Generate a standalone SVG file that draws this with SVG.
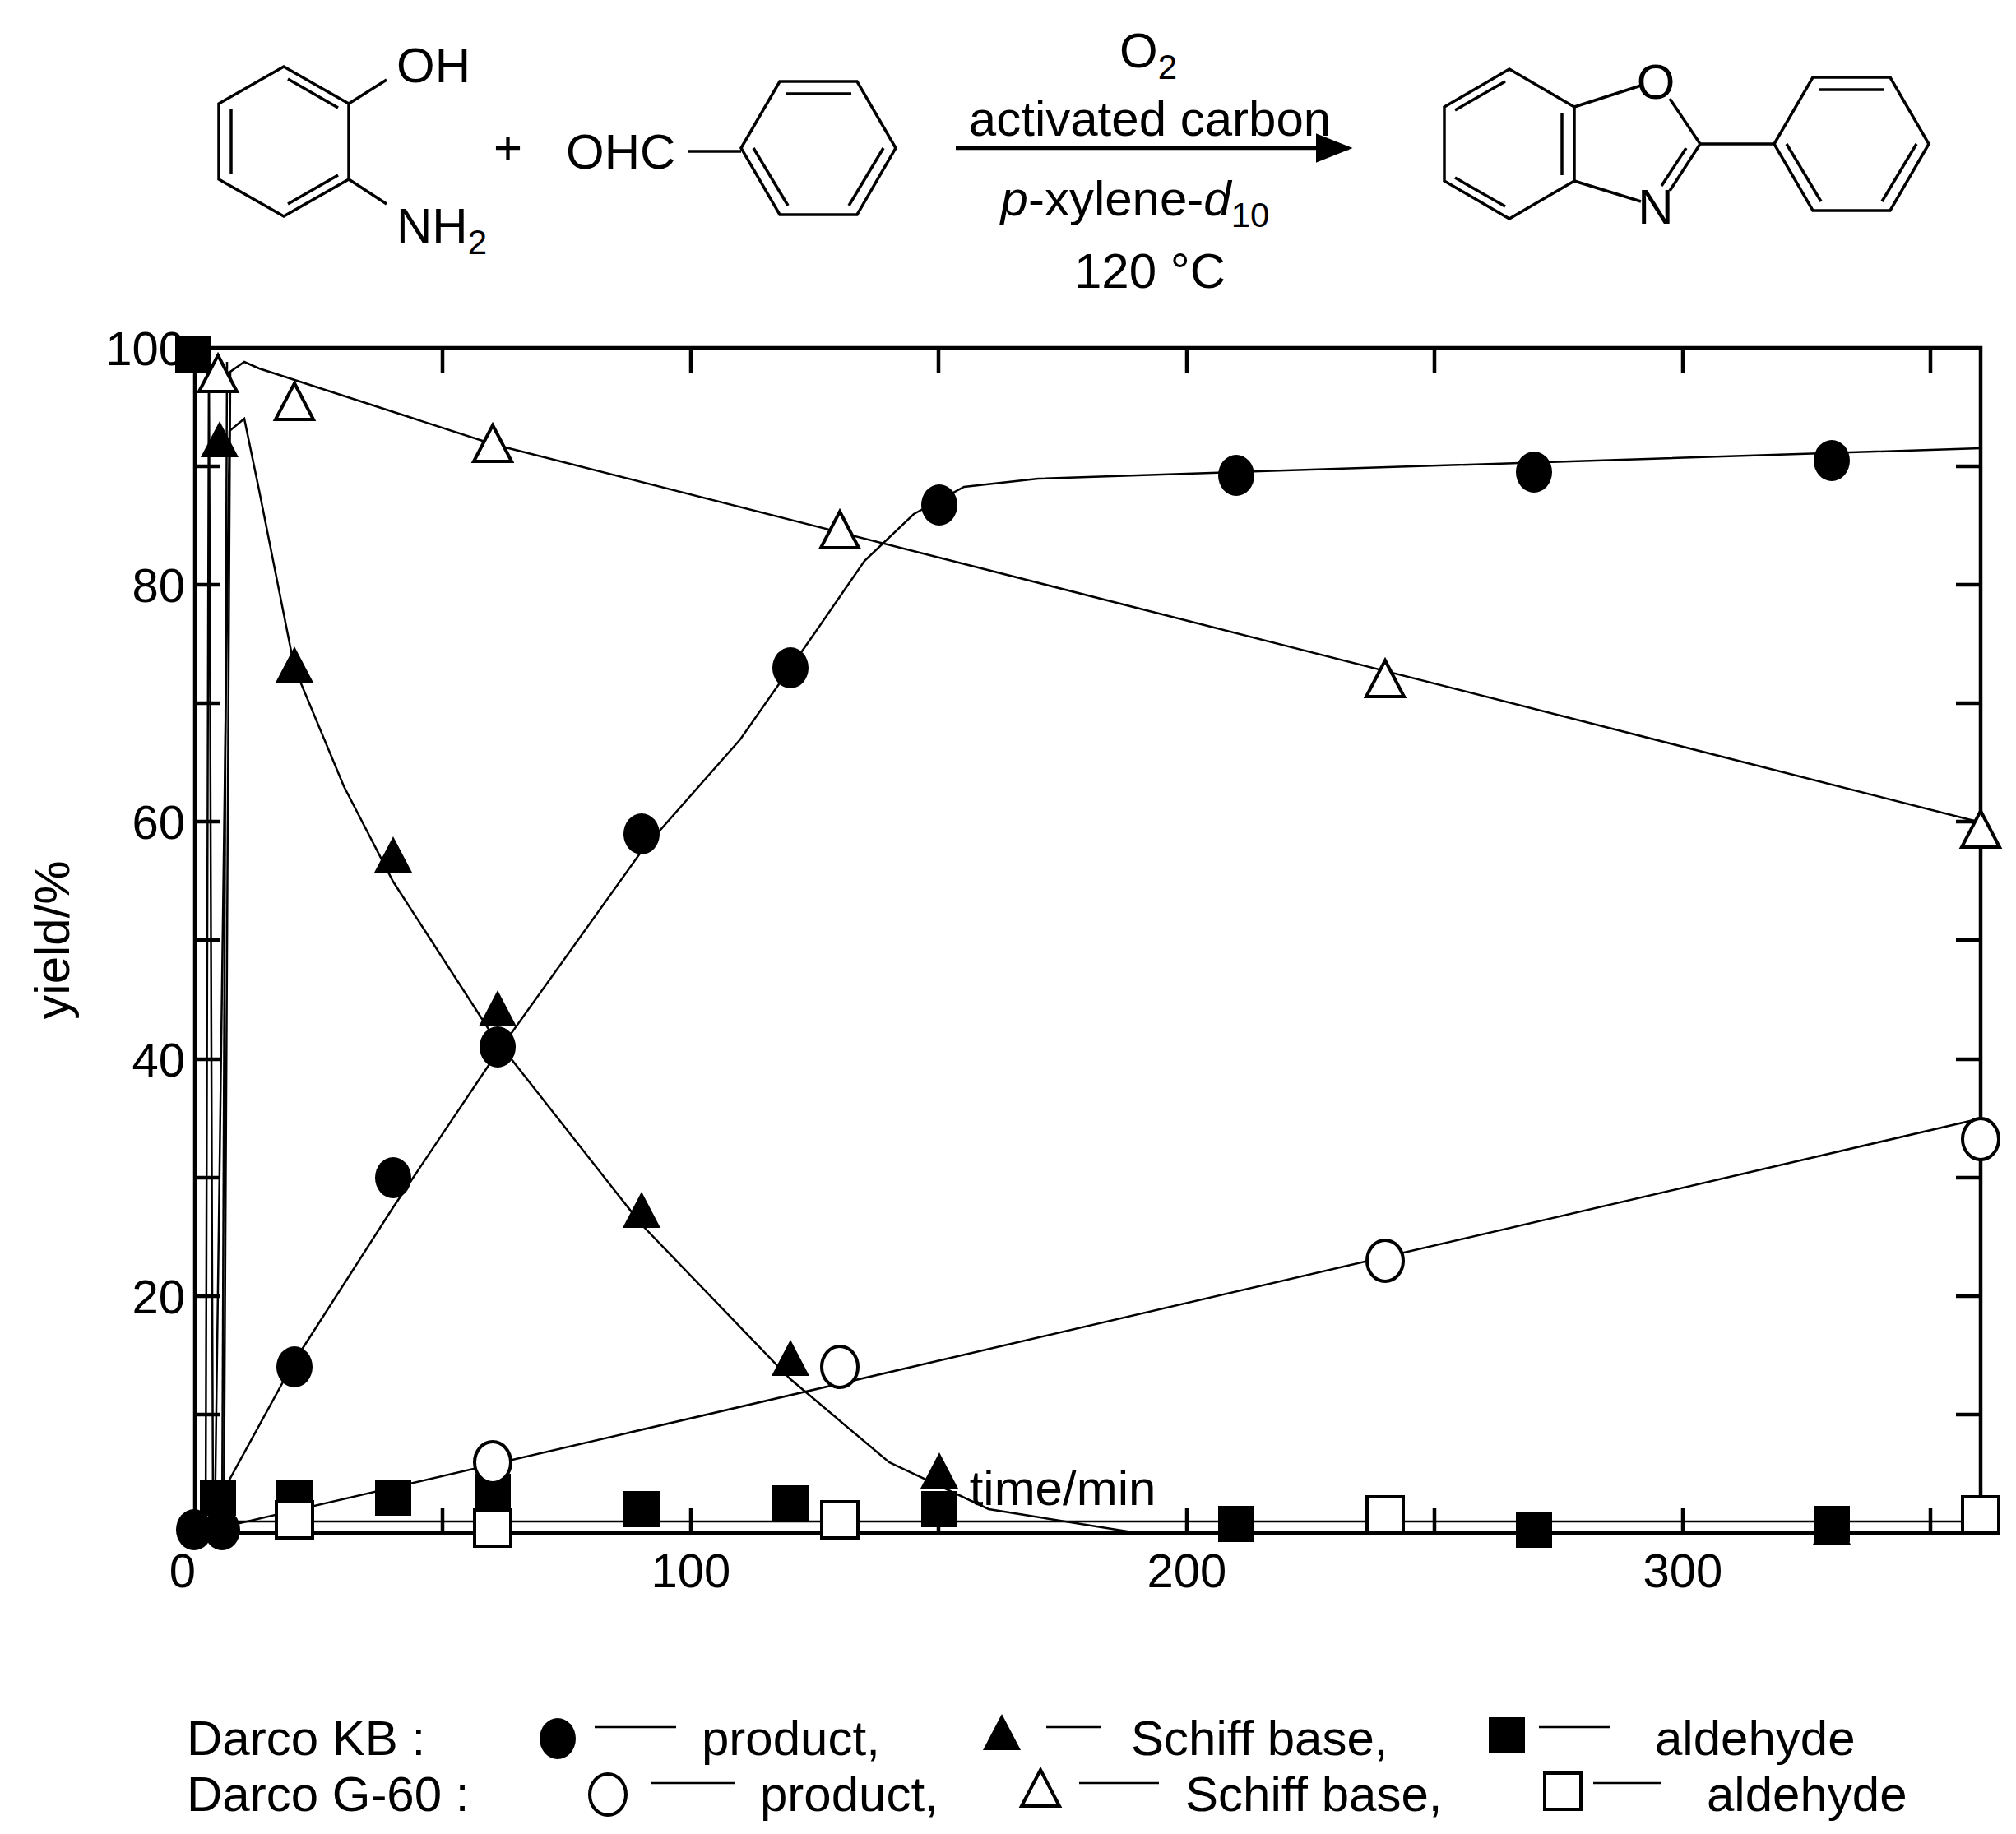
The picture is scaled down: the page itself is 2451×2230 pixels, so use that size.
<svg xmlns="http://www.w3.org/2000/svg" xmlns:xlink="http://www.w3.org/1999/xlink" width="2451" height="2230" viewBox="0 0 2451 2230">
<style>
text{font-family:"Liberation Sans",Arial,sans-serif;fill:#000}
.t{font-size:60px}
.tk{font-size:58px}
.ln{fill:none;stroke:#000;stroke-width:2.5}
.bd{fill:none;stroke:#000;stroke-width:3.5}
.ax{fill:none;stroke:#000;stroke-width:4.5}
.fc{fill:#000}
.oc{fill:#fff;stroke:#000;stroke-width:4}
</style>
<defs>
<ellipse id="c" cx="0" cy="0" rx="22" ry="25"/>
<polygon id="tr" points="0,-26 23,18 -23,18"/>
<rect id="sq" x="-22" y="-22" width="44" height="44"/>
<marker id="ah" markerWidth="10" markerHeight="8" refX="9" refY="4" orient="auto" markerUnits="strokeWidth"><path d="M0,0 L10,4 L0,8 z"/></marker>
</defs>
<rect width="2451" height="2230" fill="#fff"/>
<g id="scheme">
<g id="aminophenol" class="bd">
<polygon points="345,81 424,126 424,218 345,263 266,218 266,126"/>
<line x1="350" y1="96" x2="411" y2="131"/><line x1="281" y1="133" x2="281" y2="211"/><line x1="350" y1="248" x2="411" y2="213"/>
<line x1="424" y1="126" x2="470" y2="97"/><line x1="424" y1="218" x2="470" y2="248"/>
</g>
<text class="t" x="482" y="100">OH</text>
<text class="t" x="482" y="295">NH<tspan font-size="42" dy="14">2</tspan></text>
<text class="t" x="600" y="200">+</text>
<text class="t" x="688" y="205">OHC</text>
<g id="benzaldehyde" class="bd">
<line x1="836" y1="184" x2="901" y2="184"/>
<polygon points="901,180 948,99 1042,99 1089,180 1042,261 948,261"/>
<line x1="955" y1="114" x2="1035" y2="114"/><line x1="1074" y1="180" x2="1032" y2="250"/><line x1="916" y1="180" x2="958" y2="250"/>
</g>
<g id="arrow">
<line x1="1162" y1="180" x2="1640" y2="180" stroke="#000" stroke-width="4.5" marker-end="url(#ah)"/>
<text class="t" x="1396" y="82" text-anchor="middle">O<tspan font-size="42" dy="14">2</tspan></text>
<text class="t" x="1398" y="165" text-anchor="middle">activated carbon</text>
<text class="t" x="1380" y="262" text-anchor="middle"><tspan font-style="italic">p</tspan>-xylene-<tspan font-style="italic">d</tspan><tspan font-size="42" dy="14">10</tspan></text>
<text class="t" x="1398" y="350" text-anchor="middle">120 °C</text>
</g>
<g id="benzoxazole" class="bd">
<polygon points="1835,84 1914,130 1914,220 1835,266 1756,220 1756,130"/>
<line x1="1899" y1="137" x2="1899" y2="213"/><line x1="1830" y1="99" x2="1769" y2="134"/><line x1="1830" y1="251" x2="1769" y2="216"/>
<line x1="1914" y1="130" x2="1995" y2="104"/><line x1="2030" y1="120" x2="2067" y2="175"/>
<line x1="2067" y1="175" x2="2030" y2="232"/><line x1="2050" y1="180" x2="2020" y2="226"/>
<line x1="1995" y1="245" x2="1914" y2="220"/>
<line x1="2067" y1="175" x2="2157" y2="175"/>
<polygon points="2157,175 2204,94 2298,94 2345,175 2298,256 2204,256"/>
<line x1="2211" y1="109" x2="2291" y2="109"/><line x1="2330" y1="175" x2="2288" y2="245"/><line x1="2172" y1="175" x2="2214" y2="245"/>
</g>
<text class="t" x="2013" y="120" text-anchor="middle">O</text>
<text class="t" x="2013" y="272" text-anchor="middle">N</text>
</g>
<g id="axes">
<rect class="ax" x="237" y="423" width="2171" height="1441"/>
<path class="ax" d="M538,423v30M840,423v30M1141,423v30M1443,423v30M1744,423v30M2046,423v30M2347,423v30M538,1864v-30M840,1864v-30M1141,1864v-30M1443,1864v-30M1744,1864v-30M2046,1864v-30M2347,1864v-30
M237,1720h30M237,1576h30M237,1432h30M237,1288h30M237,1143h30M237,999h30M237,855h30M237,711h30M237,567h30
M2408,1720h-30M2408,1576h-30M2408,1432h-30M2408,1288h-30M2408,1143h-30M2408,999h-30M2408,855h-30M2408,711h-30M2408,567h-30"/>
<g class="tk" text-anchor="end">
<text x="225" y="444">100</text><text x="225" y="732">80</text><text x="225" y="1020">60</text><text x="225" y="1309">40</text><text x="225" y="1597">20</text>
</g>
<g class="tk" text-anchor="middle">
<text x="222" y="1930">0</text><text x="840" y="1930">100</text><text x="1443" y="1930">200</text><text x="2046" y="1930">300</text>
</g>
<text class="t" x="1292" y="1830" text-anchor="middle" dy="0" transform="translate(0,0)">time/min</text>
<text class="t" transform="translate(84,1143) rotate(-90)" text-anchor="middle">yield/%</text>
</g>
<g id="connectors">
<polyline class="ln" points="243,1864 267,1821 358,1655 478,1468 599,1288 780,1035 900,899 991,769 1051,682 1111,625 1172,592 1262,582 1503,574 2408,545"/>
<polyline class="ln" points="261,1864 279,524 297,509 315,596 358,812 418,956 478,1072 599,1259 780,1489 961,1677 1081,1778 1202,1835 1383,1864 2408,1864"/>
<polyline class="ln" points="250,1864 254,423 259,1850 2408,1850"/>
<polyline class="ln" points="240,1864 2408,1360"/>
<polyline class="ln" points="272,1864 280,452 297,440 315,448 599,540 2408,1000"/>
<polyline class="ln" points="270,1864 276,440"/>
</g>
<g id="kb-product" class="fc">
<use href="#c" x="236" y="1860"/><use href="#c" x="270" y="1860"/><use href="#c" x="358" y="1662"/><use href="#c" x="478" y="1432"/><use href="#c" x="605" y="1273"/><use href="#c" x="780" y="1014"/><use href="#c" x="961" y="812"/><use href="#c" x="1142" y="614"/><use href="#c" x="1503" y="578"/><use href="#c" x="1865" y="574"/><use href="#c" x="2227" y="560"/>
</g>
<g id="kb-schiff" class="fc">
<use href="#tr" x="267" y="538"/><use href="#tr" x="358" y="812"/><use href="#tr" x="478" y="1043"/><use href="#tr" x="605" y="1230"/><use href="#tr" x="780" y="1475"/><use href="#tr" x="961" y="1655"/><use href="#tr" x="1142" y="1792"/><use href="#tr" x="2227" y="1860"/>
</g>
<g id="kb-aldehyde" class="fc">
<use href="#sq" x="235" y="431"/><use href="#sq" x="265" y="1821"/><use href="#sq" x="358" y="1821"/><use href="#sq" x="478" y="1821"/><use href="#sq" x="599" y="1814"/><use href="#sq" x="780" y="1835"/><use href="#sq" x="961" y="1828"/><use href="#sq" x="1142" y="1835"/><use href="#sq" x="1503" y="1853"/><use href="#sq" x="1865" y="1860"/><use href="#sq" x="2227" y="1853"/>
</g>
<g id="g60-product" class="oc">
<use href="#c" x="599" y="1778"/><use href="#c" x="1021" y="1662"/><use href="#c" x="1684" y="1533"/><use href="#c" x="2408" y="1385"/>
</g>
<g id="g60-schiff" class="oc">
<use href="#tr" x="265" y="458"/><use href="#tr" x="358" y="492"/><use href="#tr" x="599" y="543"/><use href="#tr" x="1021" y="648"/><use href="#tr" x="1684" y="829"/><use href="#tr" x="2408" y="1012"/>
</g>
<g id="g60-aldehyde" class="oc">
<use href="#sq" x="358" y="1848"/><use href="#sq" x="599" y="1858"/><use href="#sq" x="1021" y="1848"/><use href="#sq" x="1684" y="1842"/><use href="#sq" x="2408" y="1842"/>
</g>
<g id="legend">
<text class="t" x="227" y="2134">Darco    KB :</text>
<use href="#c" x="678" y="2114" class="fc"/><line class="ln" x1="723" y1="2100" x2="822" y2="2100"/>
<text class="t" x="853" y="2134">product,</text>
<use href="#tr" x="1218" y="2110" class="fc"/><line class="ln" x1="1272" y1="2100" x2="1339" y2="2100"/>
<text class="t" x="1375" y="2134">Schiff base,</text>
<use href="#sq" x="1832" y="2110" class="fc"/><line class="ln" x1="1871" y1="2100" x2="1958" y2="2100"/>
<text class="t" x="2012" y="2134">aldehyde</text>
<text class="t" x="227" y="2202">Darco    G-60 :</text>
<use href="#c" x="739" y="2182" class="oc"/><line class="ln" x1="791" y1="2168" x2="893" y2="2168"/>
<text class="t" x="924" y="2202">product,</text>
<use href="#tr" x="1265" y="2178" class="oc"/><line class="ln" x1="1312" y1="2168" x2="1409" y2="2168"/>
<text class="t" x="1441" y="2202">Schiff base,</text>
<use href="#sq" x="1900" y="2178" class="oc"/><line class="ln" x1="1937" y1="2168" x2="2020" y2="2168"/>
<text class="t" x="2075" y="2202">aldehyde</text>
</g>
</svg>
